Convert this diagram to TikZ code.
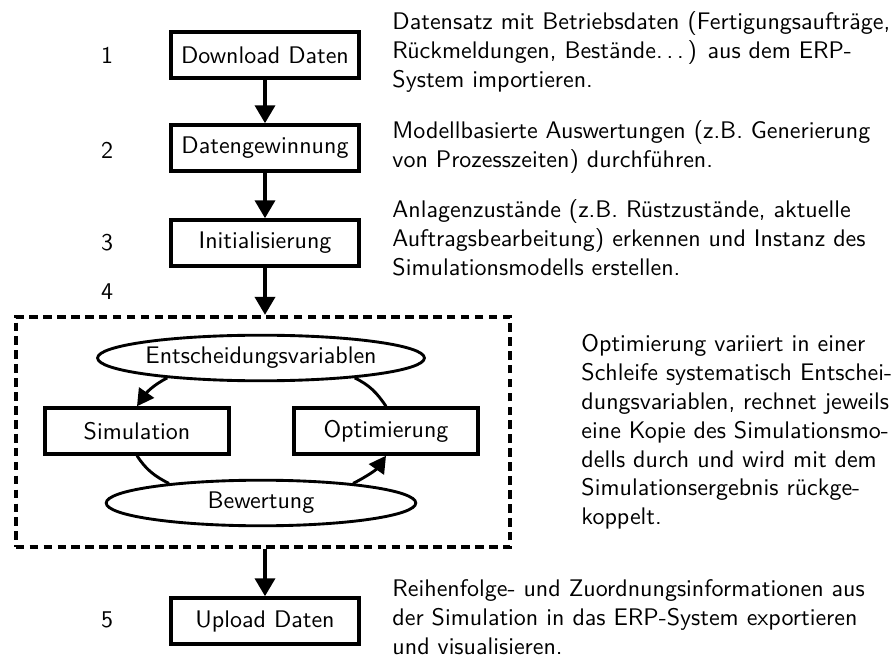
\documentclass[tikz,border=0pt]{standalone}
\usepackage{tikz}
\usetikzlibrary{shapes.geometric, arrows.meta, positioning}

\begin{document}
\begin{tikzpicture}[x=0.41667pt, y=-0.41667pt, font=\sffamily,
      box/.style={draw, line width=1.6pt, minimum width=78pt,
                   minimum height=19pt, inner sep=0pt},
      subbox/.style={box, minimum width=77pt},
      oval/.style={draw, ellipse, line width=1.2pt, minimum width=129pt,
                    minimum height=19pt, inner sep=0pt},
      frame/.style={draw, line width=1.6pt, dash pattern=on 3.6pt off 2.2pt,
                     minimum width=206pt, minimum height=96pt},
      note/.style={anchor=west, align=left, inner sep=0pt},
      num/.style={inner sep=0pt},
      arr/.style={-{Triangle[length=7.5pt, width=8.3pt]}, line width=1.6pt},
      loopline/.style={line width=1.2pt},
      looparr/.style={loopline, -{Triangle[length=7pt, width=7.5pt]}}
    ]
      \useasboundingbox (0,0) rectangle (895,661);

      % main chain
      \node[box] (dl) at (265,55) {Download Daten};
      \node[box] (dg) at (265,148) {Datengewinnung};
      \node[box] (init) at (265,243) {Initialisierung};
      \node[frame] (loop) at (263,432) {};
      \node[box] (upl) at (265,621) {Upload Daten};

      \draw[arr] (dl) -- (dg);
      \draw[arr] (dg) -- (init);
      \draw[arr] (init) -- (init |- loop.north);
      \draw[arr] (loop.south -| upl) -- (upl);

      % step numbers
      \node[num] (n1) at (107,55) {1};
      \node[num] (n2) at (107,150) {2};
      \node[num] (n3) at (107,243) {3};
      \node[num] (n4) at (107,292) {4};
      \node[num] (n5) at (107,620) {5};

      % optimisation loop
      \node[oval] (ent) at (261,358) {Entscheidungsvariablen};
      \node[subbox] (sim) at (137,431) {Simulation};
      \node[subbox] (opt) at (386,431) {Optimierung};
      \node[oval] (bew) at (261,503) {Bewertung};

      \draw[looparr] (ent.192) to[out=207, in=55] (sim.north);
      \draw[loopline] (sim.south) to[out=-57, in=153] (bew.168);
      \draw[looparr] (bew.12) to[out=27, in=235] (opt.south);
      \draw[loopline] (opt.north) to[out=124, in=-26] (ent.348);

      % descriptions
      \node[note] (t1) at (392,52) {Datensatz mit Betriebsdaten (Fertigungsauftr\"age,\\
        R\"uckmeldungen, Best\"ande.\kern0.16em.\kern0.16em.\kern0.16em) aus dem ERP-\\
        System importieren.};
      \node[note] (t2) at (392,147) {Modellbasierte Auswertungen (z.B. Generierung\\
        von Prozesszeiten) durchf\"uhren.};
      \node[note] (t3) at (392,238) {Anlagenzust\"ande (z.B. R\"ustzust\"ande, aktuelle\\
        Auftragsbearbeitung) erkennen und Instanz des\\
        Simulationsmodells erstellen.};
      \node[note] (t4) at (581,432) {Optimierung variiert in einer\\
        Schleife systematisch Entschei-\\
        dungsvariablen, rechnet jeweils\\
        eine Kopie des Simulationsmo-\\
        dells durch und wird mit dem\\
        Simulationsergebnis r\"uckge-\\
        koppelt.};
      \node[note] (t5) at (392,617) {Reihenfolge- und Zuordnungsinformationen aus\\
        der Simulation in das ERP-System exportieren\\
        und visualisieren.};
    \end{tikzpicture}
\end{document}
